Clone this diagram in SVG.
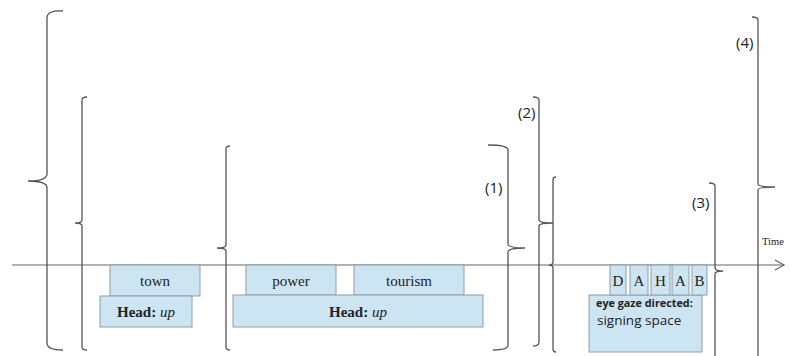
<svg xmlns="http://www.w3.org/2000/svg" width="790" height="356" viewBox="0 0 790 356">
<style>
.br{fill:none;stroke:#555;stroke-width:1.3}
.ax{fill:none;stroke:#666;stroke-width:1.2}
.box{fill:#cde4f3;stroke:#8e9ea8;stroke-width:1}
.ser{font-family:'Liberation Serif','Times New Roman',serif;font-size:15px;fill:#222;text-anchor:middle}
.lab{font-family:'Open Sans','Liberation Sans',sans-serif;font-size:15px;fill:#222}
</style>
<defs>
<marker id="arr" markerWidth="12" markerHeight="12" refX="10" refY="6" orient="auto" markerUnits="userSpaceOnUse">
<path d="M1,1 L10,6 L1,11" fill="none" stroke="#666" stroke-width="1.2"/>
</marker>
</defs>
<rect width="790" height="356" fill="#fff"/>
<g id="connectors">
<line class="ax" x1="12" y1="265" x2="784" y2="265" marker-end="url(#arr)"/>
<path class="br" d="M63,11 Q47,10 47,18 V174 Q47,181 28,181 Q47,181 47,188 V343 Q47,350 63,350"/>
<path class="br" d="M87,97 Q82,97 82,100 V220 Q82,223 75,223 Q82,223 82,226 V347 Q82,350 87,350"/>
<path class="br" d="M230,146 Q226,146 226,149 V245 Q226,248 217,248 Q226,248 226,251 V347 Q226,350 230,350"/>
<path class="br" d="M488,145 Q508,145 508,150 V244 Q508,248 525,248 Q508,248 508,252 V345 Q508,350 493,350"/>
<path class="br" d="M533,97 Q539,97 539,100 V220 Q539,223 553,223 Q539,223 539,226 V342 Q539,346 533,346"/>
<path class="br" d="M556,177 Q553,177 553,180 V262 Q553,265 549,265 Q553,265 553,268 V349 Q553,352 556,352"/>
<path class="br" d="M709,183 Q715,183 715,186 V268 Q715,271 723,271 Q715,271 715,274 V356"/>
<path class="br" d="M752,17 Q758,17 758,20 V184 Q758,187 775,187 Q758,187 758,190 V356"/>
</g>
<g id="labels">
<text class="lab" x="485" y="193">(1)</text>
<text class="lab" x="518" y="118">(2)</text>
<text class="lab" x="692" y="208">(3)</text>
<text class="lab" x="736" y="48">(4)</text>
<text x="762" y="245" font-family="'Liberation Serif',serif" font-size="10.5" fill="#222">Time</text>
</g>
<g id="town"><rect class="box" x="110" y="265" width="90" height="31"/><text class="ser" x="155" y="286">town</text></g>
<g id="head1"><rect class="box" x="100" y="296" width="92" height="31"/><text class="ser" x="146" y="317"><tspan font-weight="bold">Head:</tspan> <tspan font-style="italic">up</tspan></text></g>
<g id="power"><rect class="box" x="246" y="265" width="90" height="30"/><text class="ser" x="291" y="286">power</text></g>
<g id="tourism"><rect class="box" x="354" y="265" width="110" height="30"/><text class="ser" x="409" y="286">tourism</text></g>
<g id="head2"><rect class="box" x="233" y="295" width="250" height="32"/><text class="ser" x="358" y="317"><tspan font-weight="bold">Head:</tspan> <tspan font-style="italic">up</tspan></text></g>
<g id="gaze"><rect class="box" x="589" y="295" width="113" height="57"/>
<text x="596" y="307" font-family="'Open Sans','Liberation Sans',sans-serif" font-size="10.8" font-weight="bold" fill="#222">eye gaze directed:</text>
<text x="597" y="325" font-family="'Open Sans','Liberation Sans',sans-serif" font-size="13.5" fill="#222">signing space</text></g>
<g id="D"><rect class="box" x="610" y="265" width="16" height="30"/><text class="ser" x="618" y="286">D</text></g>
<g id="A1"><rect class="box" x="630" y="265" width="18" height="30"/><text class="ser" x="639" y="286">A</text></g>
<g id="H"><rect class="box" x="651" y="265" width="19" height="30"/><text class="ser" x="660.5" y="286">H</text></g>
<g id="A2"><rect class="box" x="672" y="265" width="17" height="30"/><text class="ser" x="680.5" y="286">A</text></g>
<g id="B"><rect class="box" x="692" y="265" width="15" height="30"/><text class="ser" x="699.5" y="286">B</text></g>
</svg>
